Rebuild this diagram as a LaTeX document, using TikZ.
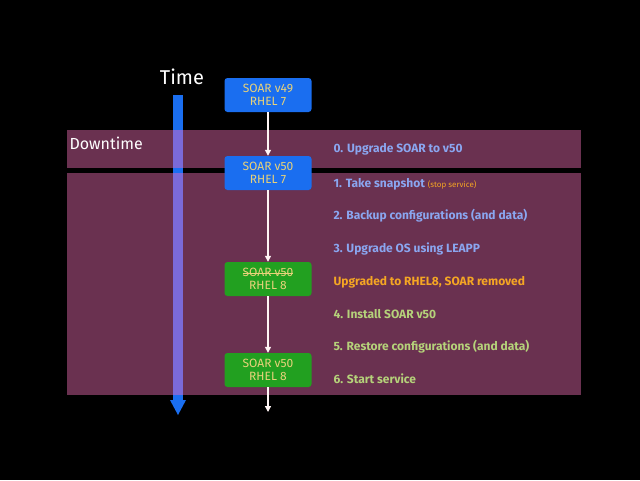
\documentclass[tikz,border=0pt]{standalone}
\usepackage{fontspec}
\setmainfont{Fira Sans}
\usetikzlibrary{arrows.meta}
\newcommand{\strikeout}[1]{\setbox0\hbox{#1}\rlap{\raisebox{0.3\ht0}{\rule{\wd0}{0.9pt}}}\box0}
\definecolor{bg}{HTML}{000000}
\definecolor{band}{HTML}{6A3150}
\definecolor{bbox}{HTML}{1A6EF0}
\definecolor{gbox}{HTML}{22A020}
\definecolor{boxtxt}{HTML}{E8D27A}
\definecolor{stepblue}{HTML}{8AA6F0}
\definecolor{steporange}{HTML}{F5A623}
\definecolor{stepgreen}{HTML}{B5D27A}
\definecolor{timeblue}{HTML}{1A6EF0}
\definecolor{timepurple}{HTML}{7B6AD8}
\begin{document}
\begin{tikzpicture}[x=1pt,y=-1pt,
  state/.style={rounded corners=3pt,minimum width=87pt,minimum height=34pt,inner sep=1pt,align=center,text=boxtxt,font=\fontsize{12}{13.5}\selectfont},
  stepline/.style={anchor=west,font=\fontsize{12}{14}\selectfont\bfseries},
  flow/.style={draw=white!85!pink,line width=1.3pt,-{Triangle[length=6pt,width=6pt]}}]
\fill[bg] (0,0) rectangle (640,480);
\useasboundingbox (0,0) rectangle (640,480);
\fill[band] (67,130) rectangle (581,168);
\fill[band] (67,173) rectangle (581,395);
% time bar
\fill[timeblue] (173,95) rectangle (183,400);
\fill[timepurple] (173,130) rectangle (183,168);
\fill[timepurple] (173,173) rectangle (183,395);
\fill[timeblue] (170,400) -- (186,400) -- (178,415) -- cycle;
\node[text=white,font=\fontsize{20}{22}\selectfont] (time) at (182,77) {Time};
\node[text=white,anchor=west,font=\fontsize{16}{18}\selectfont] (down) at (66,143) {Downtime};
% states
\node[state,fill=bbox] (s1) at (268,95) {SOAR v49\\RHEL 7};
\node[state,fill=bbox] (s2) at (268,173) {SOAR v50\\RHEL 7};
\node[state,fill=gbox] (s3) at (268,279) {\strikeout{SOAR v50}\\RHEL 8};
\node[state,fill=gbox] (s4) at (268,370) {SOAR v50\\RHEL 8};
\coordinate (end) at (268,412);
\draw[flow] (s1) -- (s2);
\draw[flow] (s2) -- (s3);
\draw[flow] (s3) -- (s4);
\draw[flow] (s4) -- (end);
% steps
\node[stepline,text=stepblue] (t0) at (330,149) {0. Upgrade SOAR to v50};
\node[stepline,text=stepblue] (t1) at (330,184) {1. Take snapshot {\color{steporange}\mdseries\fontsize{8}{9}\selectfont (stop service)}};
\node[stepline,text=stepblue] (t2) at (330,216) {2. Backup configurations (and data)};
\node[stepline,text=stepblue] (t3) at (330,249) {3. Upgrade OS using LEAPP};
\node[stepline,text=steporange] (tu) at (330,282) {Upgraded to RHEL8, SOAR removed};
\node[stepline,text=stepgreen] (t4) at (330,314) {4. Install SOAR v50};
\node[stepline,text=stepgreen] (t5) at (330,347) {5. Restore configurations (and data)};
\node[stepline,text=stepgreen] (t6) at (330,379) {6. Start service};
\end{tikzpicture}
\end{document}
